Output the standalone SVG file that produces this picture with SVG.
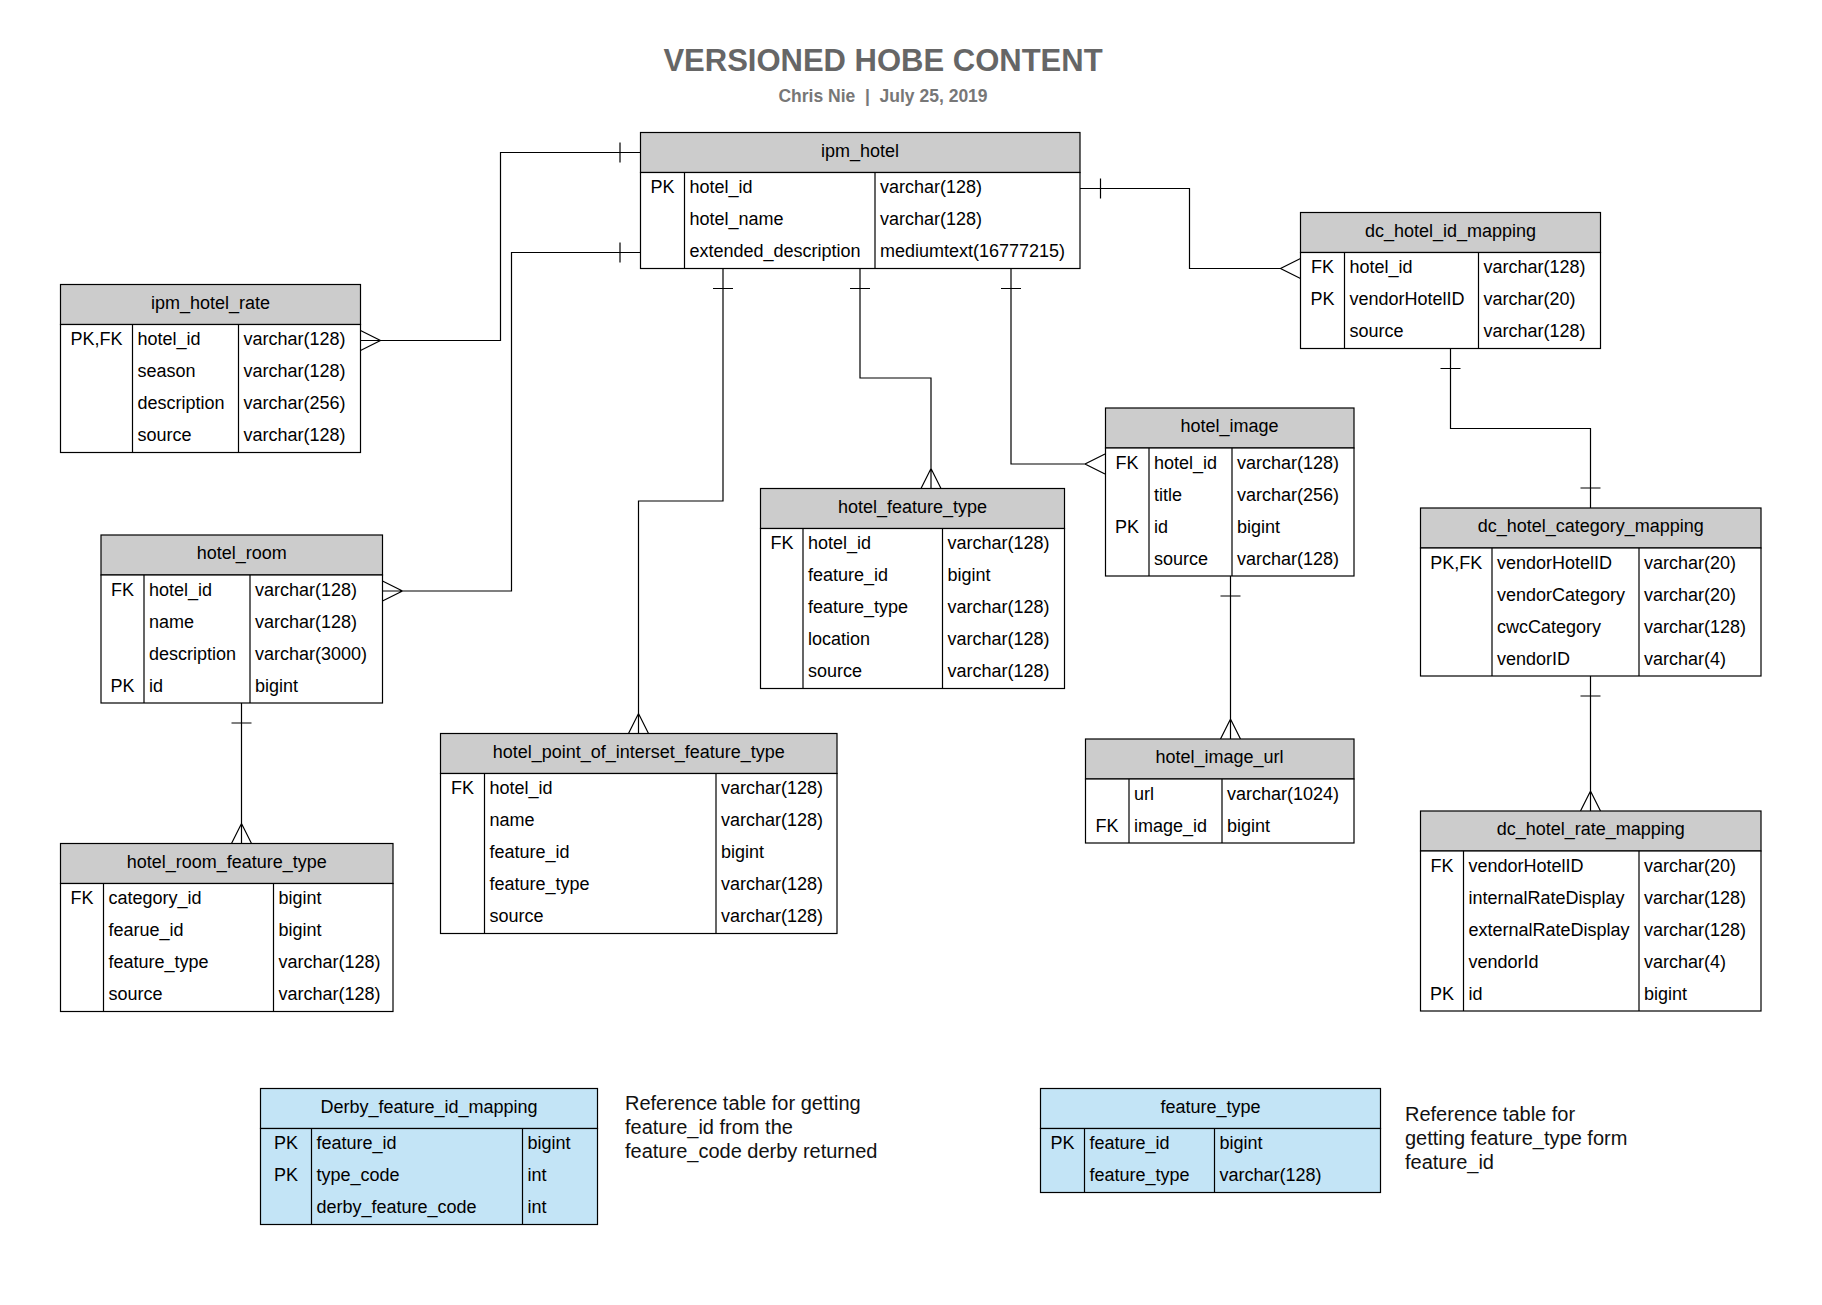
<svg xmlns="http://www.w3.org/2000/svg" width="1822" height="1305" viewBox="0 0 1822 1305">
<style>
.bg{fill:#ffffff}
.hd{fill:#cccccc;stroke:#000;stroke-width:1.2}
.bd{fill:#ffffff;stroke:#000;stroke-width:1.2}
.bh{fill:#c3e4f6;stroke:#000;stroke-width:1.2}
.bb{fill:#c3e4f6;stroke:#000;stroke-width:1.2}
.dv{stroke:#000;stroke-width:1.2;fill:none}
.ln{stroke:#000;stroke-width:1.2;fill:none}
text{font-family:"Liberation Sans",Arial,sans-serif;fill:#000}
.t{font-size:18px}
.c{text-anchor:middle}
.title{font-size:31px;font-weight:bold;fill:#666666;text-anchor:middle}
.sub{font-size:17.5px;font-weight:bold;fill:#777777;text-anchor:middle}
.note{font-size:20px;fill:#111}
</style>
<rect class="bg" x="0" y="0" width="1822" height="1305"/>
<text class="title" x="883" y="71">VERSIONED HOBE CONTENT</text>
<text class="sub" x="883" y="102" xml:space="preserve">Chris Nie  |  July 25, 2019</text>

<g id="connectors">
<path class="ln" d="M640,152.5 H500.5 V340.5 H360.5 M620,142.5 V162.5 M360.5,330.5 L380.5,340.5 L360.5,350.5"/>
<path class="ln" d="M640,252.5 H511.5 V591 H382.5 M620,242.5 V262.5 M382.5,581 L402.5,591 L382.5,601"/>
<path class="ln" d="M723,268.5 V501 H638.5 V733.5 M713,288.5 H733 M628.5,733.5 L638.5,713.5 L648.5,733.5"/>
<path class="ln" d="M860,268.5 V378 H931 V488.5 M850,288.5 H870 M921,488.5 L931,468.5 L941,488.5"/>
<path class="ln" d="M1011,268.5 V464 H1085 M1001,288.5 H1021 M1105,454 L1085,464 L1105,474"/>
<path class="ln" d="M1080,188.5 H1189.5 V268.5 H1280.5 M1100.5,178.5 V198.5 M1300.5,258.5 L1280.5,268.5 L1300.5,278.5"/>
<path class="ln" d="M1450.5,348.5 V428.5 H1590.5 V508 M1440.5,368.5 H1460.5 M1580.5,488 H1600.5"/>
<path class="ln" d="M1590.5,676 V811 M1580.5,696 H1600.5 M1580.5,811 L1590.5,791 L1600.5,811"/>
<path class="ln" d="M241.5,703 V843.5 M231.5,723 H251.5 M231.5,843.5 L241.5,823.5 L251.5,843.5"/>
<path class="ln" d="M1230.5,576 V739 M1220.5,596 H1240.5 M1220.5,739 L1230.5,719 L1240.5,739"/>
</g>

<g id="ipm_hotel">
<rect class="hd" x="640.5" y="132.5" width="439.5" height="40"/>
<rect class="bd" x="640.5" y="172.5" width="439.5" height="96"/>
<path class="dv" d="M684.5,172.5 V268.5 M875,172.5 V268.5"/>
<text class="t c" x="860" y="156.5">ipm_hotel</text>
<text class="t c" x="662.5" y="193">PK</text>
<text class="t" x="689.5" y="193">hotel_id</text>
<text class="t" x="880" y="193">varchar(128)</text>
<text class="t" x="689.5" y="225">hotel_name</text>
<text class="t" x="880" y="225">varchar(128)</text>
<text class="t" x="689.5" y="257">extended_description</text>
<text class="t" x="880" y="257">mediumtext(16777215)</text>
</g>

<g id="ipm_hotel_rate">
<rect class="hd" x="60.5" y="284.5" width="300" height="40"/>
<rect class="bd" x="60.5" y="324.5" width="300" height="128"/>
<path class="dv" d="M132.5,324.5 V452.5 M238.5,324.5 V452.5"/>
<text class="t c" x="210.5" y="308.5">ipm_hotel_rate</text>
<text class="t c" x="96.5" y="345">PK,FK</text>
<text class="t" x="137.5" y="345">hotel_id</text>
<text class="t" x="243.5" y="345">varchar(128)</text>
<text class="t" x="137.5" y="377">season</text>
<text class="t" x="243.5" y="377">varchar(128)</text>
<text class="t" x="137.5" y="409">description</text>
<text class="t" x="243.5" y="409">varchar(256)</text>
<text class="t" x="137.5" y="441">source</text>
<text class="t" x="243.5" y="441">varchar(128)</text>
</g>

<g id="dc_hotel_id_mapping">
<rect class="hd" x="1300.5" y="212.5" width="300" height="40"/>
<rect class="bd" x="1300.5" y="252.5" width="300" height="96"/>
<path class="dv" d="M1344.5,252.5 V348.5 M1478.5,252.5 V348.5"/>
<text class="t c" x="1450.5" y="236.5">dc_hotel_id_mapping</text>
<text class="t c" x="1322.5" y="273">FK</text>
<text class="t" x="1349.5" y="273">hotel_id</text>
<text class="t" x="1483.5" y="273">varchar(128)</text>
<text class="t c" x="1322.5" y="305">PK</text>
<text class="t" x="1349.5" y="305">vendorHotelID</text>
<text class="t" x="1483.5" y="305">varchar(20)</text>
<text class="t" x="1349.5" y="337">source</text>
<text class="t" x="1483.5" y="337">varchar(128)</text>
</g>

<g id="hotel_image">
<rect class="hd" x="1105.5" y="408" width="248.5" height="40"/>
<rect class="bd" x="1105.5" y="448" width="248.5" height="128"/>
<path class="dv" d="M1149,448 V576 M1232,448 V576"/>
<text class="t c" x="1229.5" y="432">hotel_image</text>
<text class="t c" x="1127" y="468.5">FK</text>
<text class="t" x="1154" y="468.5">hotel_id</text>
<text class="t" x="1237" y="468.5">varchar(128)</text>
<text class="t" x="1154" y="500.5">title</text>
<text class="t" x="1237" y="500.5">varchar(256)</text>
<text class="t c" x="1127" y="532.5">PK</text>
<text class="t" x="1154" y="532.5">id</text>
<text class="t" x="1237" y="532.5">bigint</text>
<text class="t" x="1154" y="564.5">source</text>
<text class="t" x="1237" y="564.5">varchar(128)</text>
</g>

<g id="hotel_image_url">
<rect class="hd" x="1085.5" y="739" width="268.5" height="40"/>
<rect class="bd" x="1085.5" y="779" width="268.5" height="64"/>
<path class="dv" d="M1129,779 V843 M1222,779 V843"/>
<text class="t c" x="1219.5" y="763">hotel_image_url</text>
<text class="t" x="1134" y="799.5">url</text>
<text class="t" x="1227" y="799.5">varchar(1024)</text>
<text class="t c" x="1107" y="831.5">FK</text>
<text class="t" x="1134" y="831.5">image_id</text>
<text class="t" x="1227" y="831.5">bigint</text>
</g>

<g id="hotel_feature_type">
<rect class="hd" x="760.5" y="488.5" width="304" height="40"/>
<rect class="bd" x="760.5" y="528.5" width="304" height="160"/>
<path class="dv" d="M803,528.5 V688.5 M942.5,528.5 V688.5"/>
<text class="t c" x="912.5" y="512.5">hotel_feature_type</text>
<text class="t c" x="782" y="549">FK</text>
<text class="t" x="808" y="549">hotel_id</text>
<text class="t" x="947.5" y="549">varchar(128)</text>
<text class="t" x="808" y="581">feature_id</text>
<text class="t" x="947.5" y="581">bigint</text>
<text class="t" x="808" y="613">feature_type</text>
<text class="t" x="947.5" y="613">varchar(128)</text>
<text class="t" x="808" y="645">location</text>
<text class="t" x="947.5" y="645">varchar(128)</text>
<text class="t" x="808" y="677">source</text>
<text class="t" x="947.5" y="677">varchar(128)</text>
</g>

<g id="hotel_room">
<rect class="hd" x="101" y="535" width="281.5" height="40"/>
<rect class="bd" x="101" y="575" width="281.5" height="128"/>
<path class="dv" d="M144,575 V703 M250,575 V703"/>
<text class="t c" x="241.75" y="559">hotel_room</text>
<text class="t c" x="122.5" y="595.5">FK</text>
<text class="t" x="149" y="595.5">hotel_id</text>
<text class="t" x="255" y="595.5">varchar(128)</text>
<text class="t" x="149" y="627.5">name</text>
<text class="t" x="255" y="627.5">varchar(128)</text>
<text class="t" x="149" y="659.5">description</text>
<text class="t" x="255" y="659.5">varchar(3000)</text>
<text class="t c" x="122.5" y="691.5">PK</text>
<text class="t" x="149" y="691.5">id</text>
<text class="t" x="255" y="691.5">bigint</text>
</g>

<g id="dc_hotel_category_mapping">
<rect class="hd" x="1420.5" y="508" width="340.5" height="40"/>
<rect class="bd" x="1420.5" y="548" width="340.5" height="128"/>
<path class="dv" d="M1492,548 V676 M1639,548 V676"/>
<text class="t c" x="1590.75" y="532">dc_hotel_category_mapping</text>
<text class="t c" x="1456.25" y="568.5">PK,FK</text>
<text class="t" x="1497" y="568.5">vendorHotelID</text>
<text class="t" x="1644" y="568.5">varchar(20)</text>
<text class="t" x="1497" y="600.5">vendorCategory</text>
<text class="t" x="1644" y="600.5">varchar(20)</text>
<text class="t" x="1497" y="632.5">cwcCategory</text>
<text class="t" x="1644" y="632.5">varchar(128)</text>
<text class="t" x="1497" y="664.5">vendorID</text>
<text class="t" x="1644" y="664.5">varchar(4)</text>
</g>

<g id="hotel_point_of_interset_feature_type">
<rect class="hd" x="440.5" y="733.5" width="396.5" height="40"/>
<rect class="bd" x="440.5" y="773.5" width="396.5" height="160"/>
<path class="dv" d="M484.5,773.5 V933.5 M716,773.5 V933.5"/>
<text class="t c" x="638.75" y="757.5">hotel_point_of_interset_feature_type</text>
<text class="t c" x="462.5" y="794">FK</text>
<text class="t" x="489.5" y="794">hotel_id</text>
<text class="t" x="721" y="794">varchar(128)</text>
<text class="t" x="489.5" y="826">name</text>
<text class="t" x="721" y="826">varchar(128)</text>
<text class="t" x="489.5" y="858">feature_id</text>
<text class="t" x="721" y="858">bigint</text>
<text class="t" x="489.5" y="890">feature_type</text>
<text class="t" x="721" y="890">varchar(128)</text>
<text class="t" x="489.5" y="922">source</text>
<text class="t" x="721" y="922">varchar(128)</text>
</g>

<g id="hotel_room_feature_type">
<rect class="hd" x="60.5" y="843.5" width="332.5" height="40"/>
<rect class="bd" x="60.5" y="883.5" width="332.5" height="128"/>
<path class="dv" d="M103.5,883.5 V1011.5 M273.5,883.5 V1011.5"/>
<text class="t c" x="226.75" y="867.5">hotel_room_feature_type</text>
<text class="t c" x="82" y="904">FK</text>
<text class="t" x="108.5" y="904">category_id</text>
<text class="t" x="278.5" y="904">bigint</text>
<text class="t" x="108.5" y="936">fearue_id</text>
<text class="t" x="278.5" y="936">bigint</text>
<text class="t" x="108.5" y="968">feature_type</text>
<text class="t" x="278.5" y="968">varchar(128)</text>
<text class="t" x="108.5" y="1000">source</text>
<text class="t" x="278.5" y="1000">varchar(128)</text>
</g>

<g id="dc_hotel_rate_mapping">
<rect class="hd" x="1420.5" y="811" width="340.5" height="40"/>
<rect class="bd" x="1420.5" y="851" width="340.5" height="160"/>
<path class="dv" d="M1463.5,851 V1011 M1639,851 V1011"/>
<text class="t c" x="1590.75" y="835">dc_hotel_rate_mapping</text>
<text class="t c" x="1442" y="871.5">FK</text>
<text class="t" x="1468.5" y="871.5">vendorHotelID</text>
<text class="t" x="1644" y="871.5">varchar(20)</text>
<text class="t" x="1468.5" y="903.5">internalRateDisplay</text>
<text class="t" x="1644" y="903.5">varchar(128)</text>
<text class="t" x="1468.5" y="935.5">externalRateDisplay</text>
<text class="t" x="1644" y="935.5">varchar(128)</text>
<text class="t" x="1468.5" y="967.5">vendorId</text>
<text class="t" x="1644" y="967.5">varchar(4)</text>
<text class="t c" x="1442" y="999.5">PK</text>
<text class="t" x="1468.5" y="999.5">id</text>
<text class="t" x="1644" y="999.5">bigint</text>
</g>

<g id="Derby_feature_id_mapping">
<rect class="bh" x="260.5" y="1088.5" width="337" height="40"/>
<rect class="bb" x="260.5" y="1128.5" width="337" height="96"/>
<path class="dv" d="M311.5,1128.5 V1224.5 M522.5,1128.5 V1224.5"/>
<text class="t c" x="429" y="1112.5">Derby_feature_id_mapping</text>
<text class="t c" x="286" y="1149">PK</text>
<text class="t" x="316.5" y="1149">feature_id</text>
<text class="t" x="527.5" y="1149">bigint</text>
<text class="t c" x="286" y="1181">PK</text>
<text class="t" x="316.5" y="1181">type_code</text>
<text class="t" x="527.5" y="1181">int</text>
<text class="t" x="316.5" y="1213">derby_feature_code</text>
<text class="t" x="527.5" y="1213">int</text>
</g>

<g id="note_derby">
<text class="note" x="625" y="1110">Reference table for getting</text>
<text class="note" x="625" y="1134">feature_id from the</text>
<text class="note" x="625" y="1158">feature_code derby returned</text>
</g>

<g id="feature_type">
<rect class="bh" x="1040.5" y="1088.5" width="340" height="40"/>
<rect class="bb" x="1040.5" y="1128.5" width="340" height="64"/>
<path class="dv" d="M1084.5,1128.5 V1192.5 M1214.5,1128.5 V1192.5"/>
<text class="t c" x="1210.5" y="1112.5">feature_type</text>
<text class="t c" x="1062.5" y="1149">PK</text>
<text class="t" x="1089.5" y="1149">feature_id</text>
<text class="t" x="1219.5" y="1149">bigint</text>
<text class="t" x="1089.5" y="1181">feature_type</text>
<text class="t" x="1219.5" y="1181">varchar(128)</text>
</g>

<g id="note_feature_type">
<text class="note" x="1405" y="1121">Reference table for</text>
<text class="note" x="1405" y="1145">getting feature_type form</text>
<text class="note" x="1405" y="1169">feature_id</text>
</g>
</svg>
